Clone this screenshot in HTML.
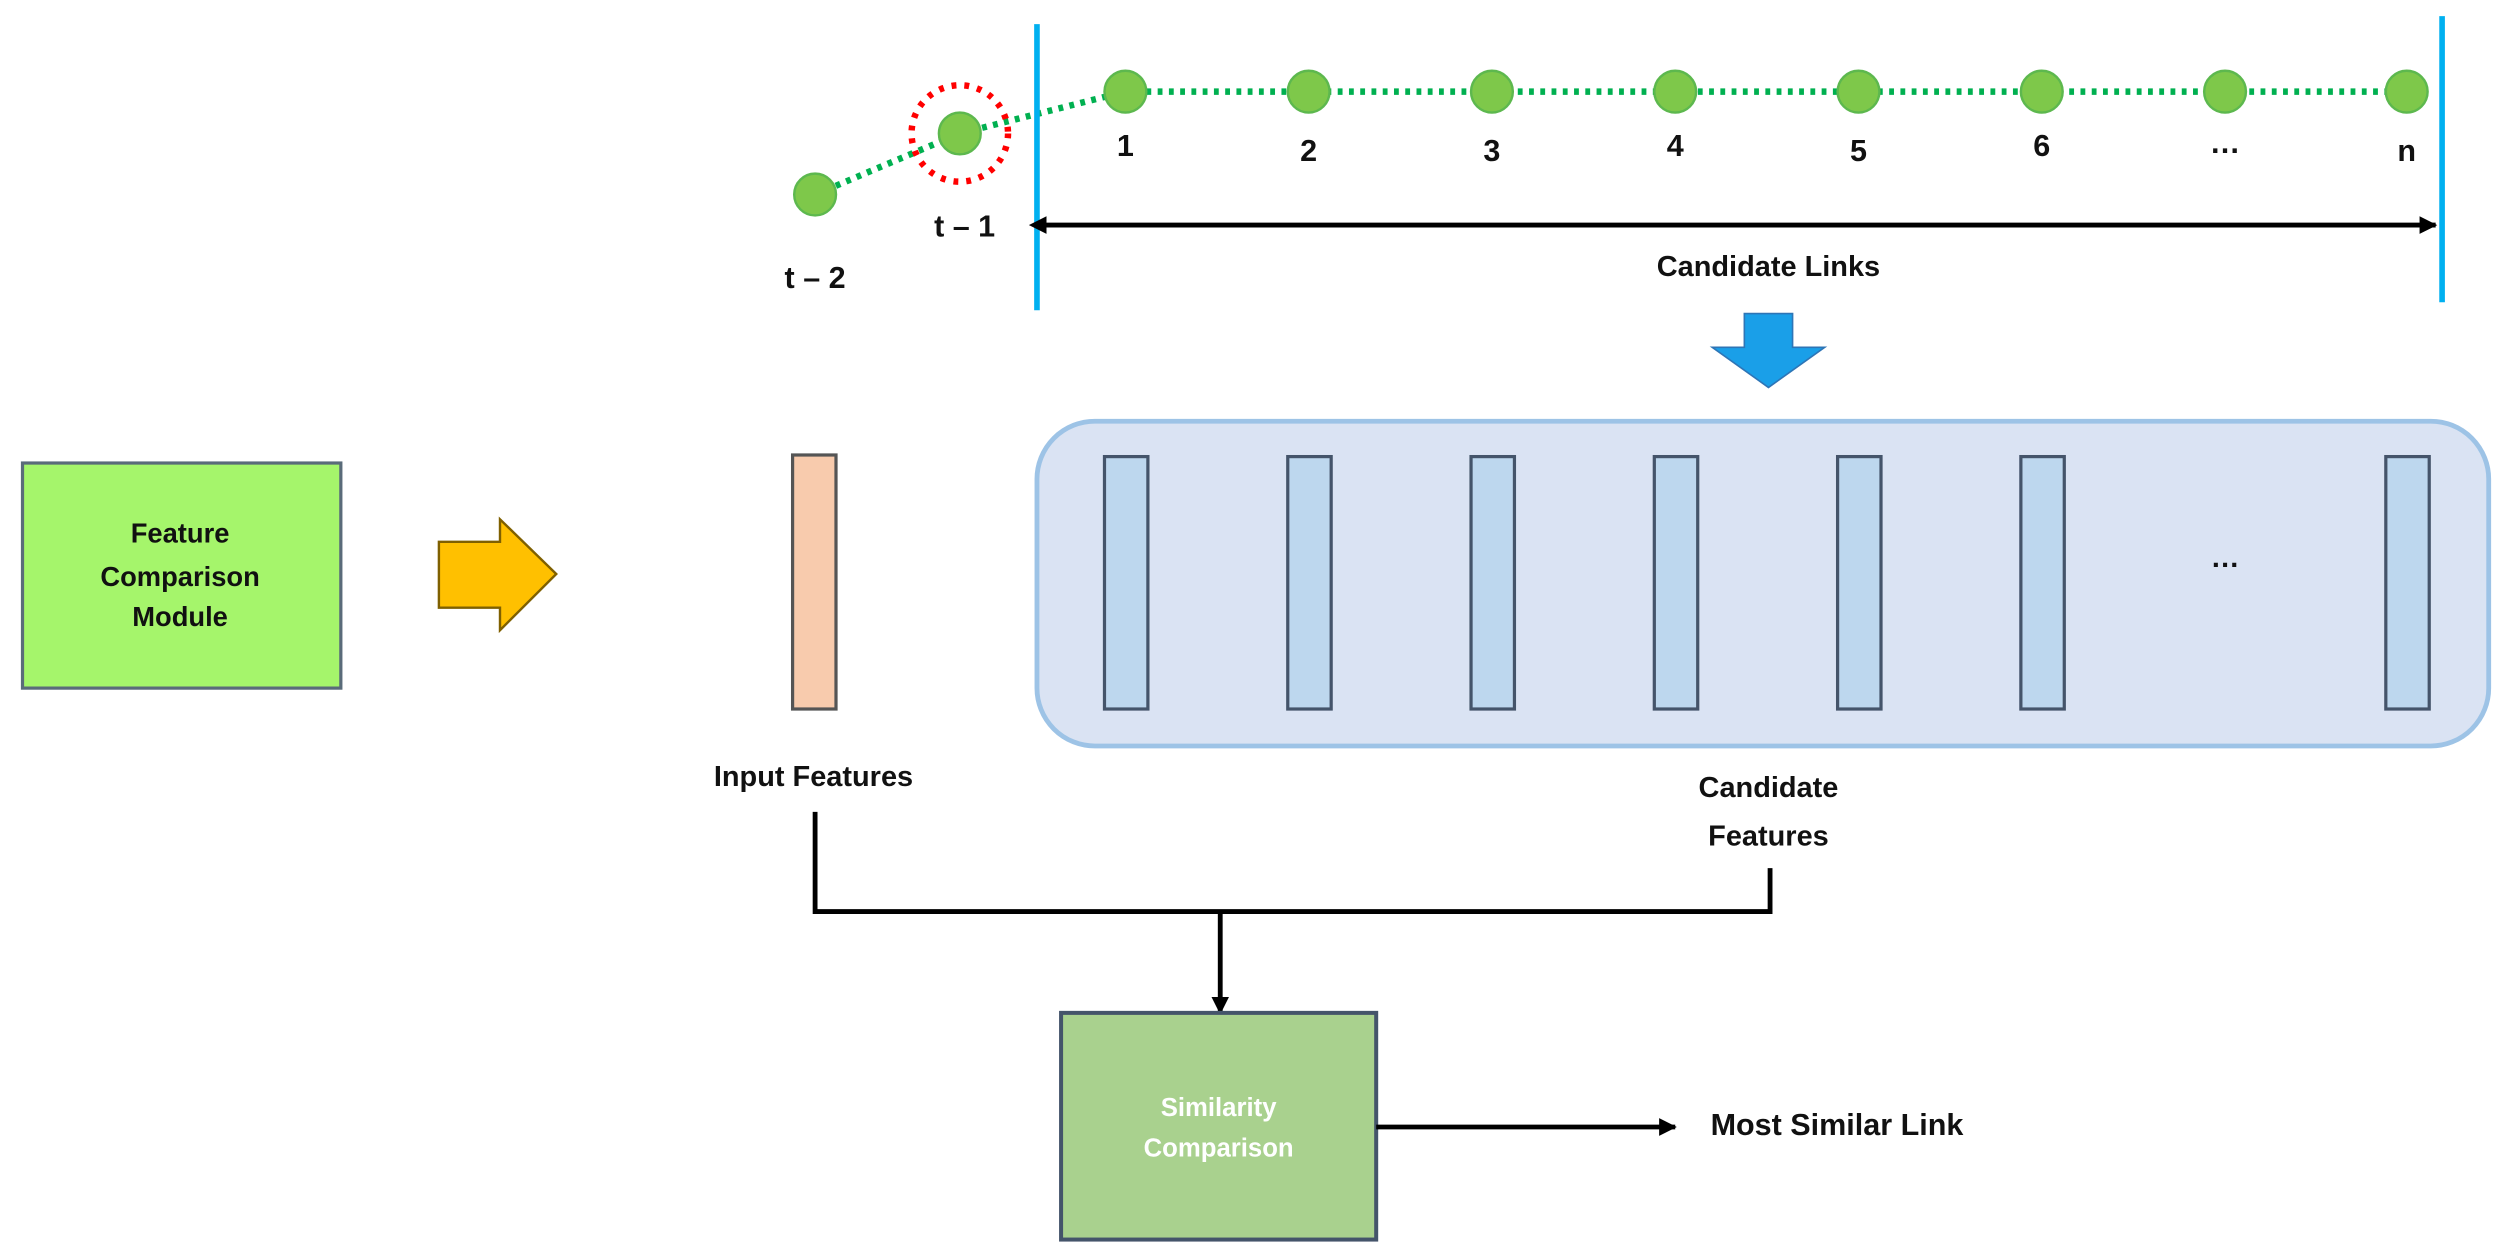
<!DOCTYPE html>
<html><head><meta charset="utf-8"><style>
html,body{margin:0;padding:0;background:#fff;}
svg{display:block;}
text{font-family:"Liberation Sans",sans-serif;font-weight:bold;fill:#111;text-anchor:middle;dominant-baseline:middle;}
</style></head><body>
<svg width="2508" height="1255" viewBox="0 0 1560 780.6" preserveAspectRatio="none" xmlns="http://www.w3.org/2000/svg">
<defs>
<marker id="ah" markerWidth="11" markerHeight="11" refX="10" refY="5.5" orient="auto" markerUnits="userSpaceOnUse"><path d="M0,0 L11,5.5 L0,11 z" fill="#000"/></marker>
<marker id="ahs" markerWidth="11" markerHeight="11" refX="1" refY="5.5" orient="auto-start-reverse" markerUnits="userSpaceOnUse"><path d="M0,0 L11,5.5 L0,11 z" fill="#000"/></marker>
</defs>
<polyline points="507,121 597,83 700,57 1497,57" fill="none" stroke="#00b050" stroke-width="4" stroke-dasharray="3,4"/>
<circle cx="597" cy="83" r="30" fill="none" stroke="#ff0000" stroke-width="4" stroke-dasharray="3,5"/>
<g fill="#7ec84a" stroke="#5db84e" stroke-width="1.5">
<circle cx="507" cy="121" r="13"/><circle cx="597" cy="83" r="13"/>
<circle cx="700" cy="57" r="13"/><circle cx="814" cy="57" r="13"/><circle cx="928" cy="57" r="13"/><circle cx="1042" cy="57" r="13"/><circle cx="1156" cy="57" r="13"/><circle cx="1270" cy="57" r="13"/><circle cx="1384" cy="57" r="13"/><circle cx="1497" cy="57" r="13"/>
</g>
<g font-size="19">
<text x="700" y="92">1</text><text x="814" y="95">2</text><text x="928" y="95">3</text><text x="1042" y="92">4</text><text x="1156" y="95">5</text><text x="1270" y="92">6</text><text x="1384" y="90">…</text><text x="1497" y="95">n</text>
<text x="600" y="142">t – 1</text><text x="507" y="174">t – 2</text>
</g>
<line x1="645" y1="15" x2="645" y2="193" stroke="#00b0f0" stroke-width="3.5"/>
<line x1="1519" y1="10" x2="1519" y2="188" stroke="#00b0f0" stroke-width="3.5"/>
<line x1="650" y1="140" x2="1515" y2="140" stroke="#000" stroke-width="3" marker-start="url(#ahs)" marker-end="url(#ah)"/>
<text x="1100" y="167" font-size="18">Candidate Links</text>
<path d="M1085,195 L1115,195 L1115,216 L1135,216 L1100,241 L1065,216 L1085,216 Z" fill="#1a9fe8" stroke="#2e75b6" stroke-width="1"/>
<rect x="14" y="288" width="198" height="140" fill="#a5f56b" stroke="#5a6b7a" stroke-width="2"/>
<g font-size="17"><text x="112" y="333">Feature</text><text x="112" y="360">Comparison</text><text x="112" y="385">Module</text></g>
<path d="M273,337 L311,337 L311,323 L346,357 L311,392 L311,378 L273,378 Z" fill="#ffc000" stroke="#7f6000" stroke-width="1.5"/>
<rect x="493" y="283" width="27" height="158" fill="#f8cbad" stroke="#555" stroke-width="2"/>
<rect x="645" y="262" width="903" height="202" rx="36" fill="#dae3f3" stroke="#9dc3e6" stroke-width="3"/>
<g fill="#bdd7ee" stroke="#44546a" stroke-width="2">
<rect x="687" y="284" width="27" height="157"/><rect x="801" y="284" width="27" height="157"/><rect x="915" y="284" width="27" height="157"/><rect x="1029" y="284" width="27" height="157"/><rect x="1143" y="284" width="27" height="157"/><rect x="1257" y="284" width="27" height="157"/><rect x="1484" y="284" width="27" height="157"/>
</g>
<text x="1384" y="348" font-size="18">…</text>
<g font-size="18"><text x="506" y="484">Input Features</text><text x="1100" y="491">Candidate</text><text x="1100" y="521">Features</text></g>
<polyline points="507,505 507,567 1101,567 1101,540" fill="none" stroke="#000" stroke-width="3"/>
<line x1="759" y1="567" x2="759" y2="630" stroke="#000" stroke-width="3" marker-end="url(#ah)"/>
<rect x="660" y="630" width="196" height="141" fill="#a9d18e" stroke="#44546a" stroke-width="2.5"/>
<text x="758" y="690" font-size="16" style="fill:#fff">Similarity</text>
<text x="758" y="715" font-size="16" style="fill:#fff">Comparison</text>
<line x1="856" y1="701" x2="1042" y2="701" stroke="#000" stroke-width="3" marker-end="url(#ah)"/>
<text x="1064" y="701" font-size="19" style="text-anchor:start">Most Similar Link</text>
</svg>
</body></html>
